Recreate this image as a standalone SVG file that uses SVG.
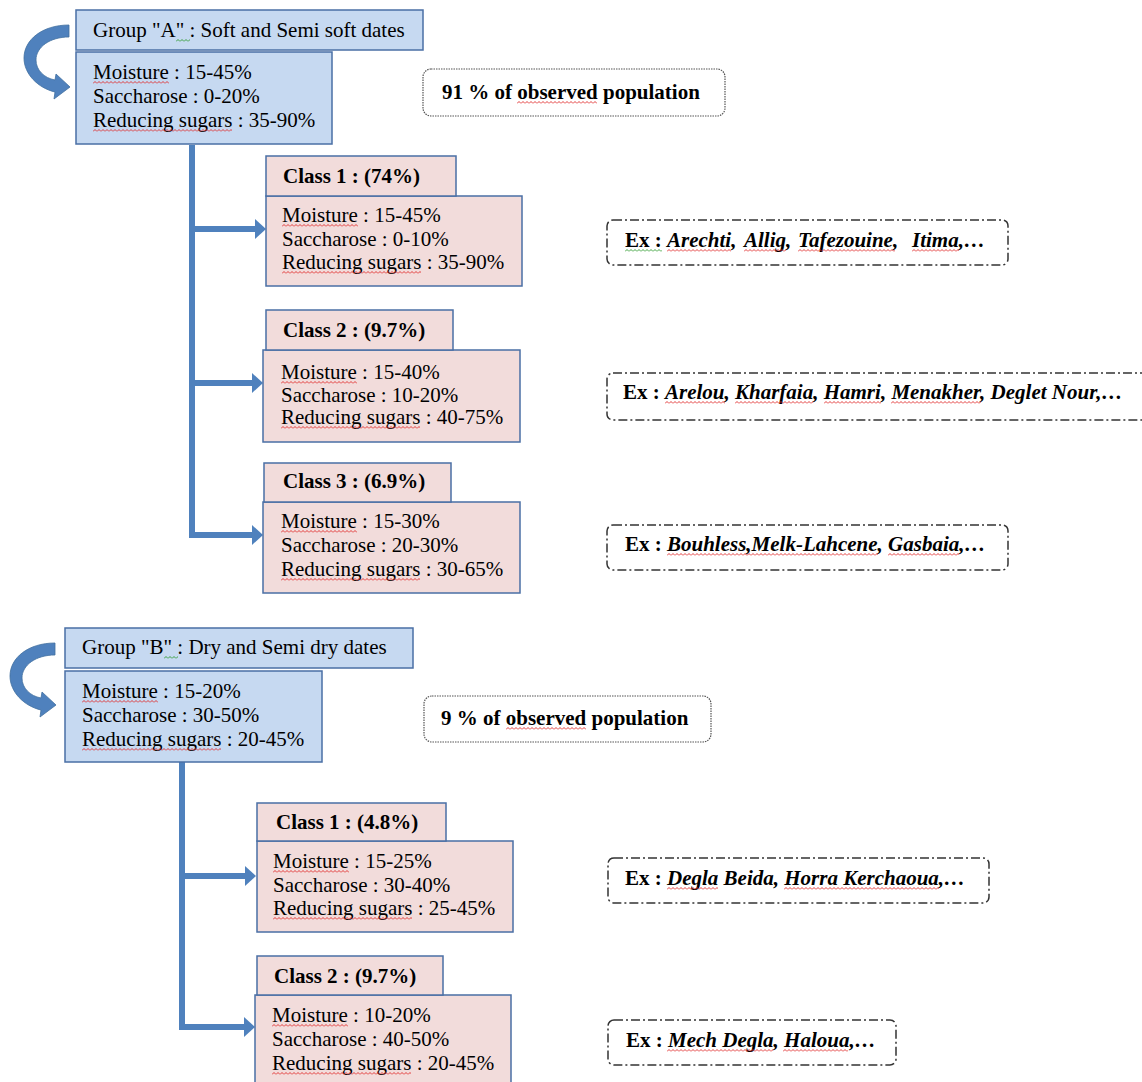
<svg xmlns="http://www.w3.org/2000/svg" width="1142" height="1082" viewBox="0 0 1142 1082">
<style>
.t{font-family:"Liberation Serif","Times New Roman",serif;font-size:21px;fill:#000}
.b{font-weight:bold}
.bi{font-weight:bold;font-style:italic}
.blue{fill:#c6d9f1;stroke:#4a6fa5;stroke-width:1.5}
.pink{fill:#f2dcdb;stroke:#4a6fa5;stroke-width:1.5}
.dot{fill:#fff;stroke:#555;stroke-width:1.2;stroke-dasharray:1.5 1}
.dd{fill:#fff;stroke:#333;stroke-width:1.5;stroke-dasharray:9 3 2 3}
.conn{fill:none;stroke:#4f81bd;stroke-width:6;marker-end:url(#ah)}
.curve{fill:#4f81bd;stroke:#41709f;stroke-width:0.8}
</style>
<defs>
<marker id="ah" markerUnits="userSpaceOnUse" markerWidth="12" markerHeight="22" refX="0" refY="10" orient="auto" overflow="visible">
<path d="M0 0 L11 10 L0 20 Z" fill="#4f81bd"/>
</marker>
<pattern id="sqr" width="4" height="3" patternUnits="userSpaceOnUse"><path d="M0 2.5 L2 0.5 L4 2.5" fill="none" stroke="#e02828" stroke-width="0.9"/></pattern>
<pattern id="sqg" width="4" height="3" patternUnits="userSpaceOnUse"><path d="M0 2.5 L2 0.5 L4 2.5" fill="none" stroke="#2a9a2a" stroke-width="0.9"/></pattern>
<path id="carrow" d="M69 25 C42 25 24 40 24 58 C24 74 38 88 55 92 L54 99 L70 87 L56 74 L55 80 C44 78 36 70 36 60 C36 47 50 37 69 37 Z"/>
</defs>
<rect width="1142" height="1082" fill="#fff"/>

<g id="connectors">
<use href="#carrow" class="curve"/>
<use href="#carrow" class="curve" transform="translate(-14 618)"/>
<path class="conn" d="M192 145 V535 H252"/>
<path class="conn" d="M192 229 H255"/>
<path class="conn" d="M192 383 H252"/>
<path class="conn" d="M182 762 V1027 H244"/>
<path class="conn" d="M182 876 H245"/>
</g>

<g id="groupA">
<rect class="blue" x="76" y="10" width="347" height="40"/>
<text class="t" x="93" y="37">Group "A" : Soft and Semi soft dates</text>
</g>
<g id="groupA-body">
<rect class="blue" x="76" y="52" width="256" height="92"/>
<text class="t" x="93" y="79">Moisture : 15-45%</text>
<text class="t" x="93" y="103">Saccharose : 0-20%</text>
<text class="t" x="93" y="127">Reducing sugars : 35-90%</text>
</g>
<g id="popA">
<rect class="dot" x="423" y="69" width="302" height="47" rx="8"/>
<text class="t b" x="442" y="99">91 % of observed population</text>
</g>

<g id="A-class1">
<rect class="pink" x="266" y="196" width="256" height="90"/>
<rect class="pink" x="266" y="156" width="190" height="40"/>
<text class="t b" x="283" y="183">Class 1 : (74%)</text>
<text class="t" x="282" y="222">Moisture : 15-45%</text>
<text class="t" x="282" y="246">Saccharose : 0-10%</text>
<text class="t" x="282" y="269">Reducing sugars : 35-90%</text>
</g>
<g id="A-class2">
<rect class="pink" x="263" y="350" width="257" height="92"/>
<rect class="pink" x="266" y="310" width="187" height="40"/>
<text class="t b" x="283" y="337">Class 2 : (9.7%)</text>
<text class="t" x="281" y="379">Moisture : 15-40%</text>
<text class="t" x="281" y="402">Saccharose : 10-20%</text>
<text class="t" x="281" y="424">Reducing sugars : 40-75%</text>
</g>
<g id="A-class3">
<rect class="pink" x="263" y="502" width="257" height="91"/>
<rect class="pink" x="264" y="463" width="187" height="39"/>
<text class="t b" x="283" y="488">Class 3 : (6.9%)</text>
<text class="t" x="281" y="528">Moisture : 15-30%</text>
<text class="t" x="281" y="552">Saccharose : 20-30%</text>
<text class="t" x="281" y="576">Reducing sugars : 30-65%</text>
</g>

<g id="A-ex1">
<rect class="dd" x="607" y="220" width="401" height="45" rx="6"/>
<text class="t b" x="625" y="247">Ex : <tspan class="bi" x="667">Arechti,</tspan><tspan class="bi" x="744">Allig,</tspan><tspan class="bi" x="798">Tafezouine,</tspan><tspan class="bi" x="912">Itima,…</tspan></text>
</g>
<g id="A-ex2">
<rect class="dd" x="607" y="373" width="545" height="47" rx="6"/>
<text class="t b" x="623" y="399">Ex : <tspan class="bi">Arelou, Kharfaia, Hamri, Menakher, Deglet Nour,…</tspan></text>
</g>
<g id="A-ex3">
<rect class="dd" x="607" y="525" width="401" height="45" rx="6"/>
<text class="t b" x="625" y="551">Ex : <tspan class="bi">Bouhless,Melk-Lahcene, Gasbaia,…</tspan></text>
</g>

<g id="groupB">
<rect class="blue" x="65" y="628" width="348" height="40"/>
<text class="t" x="82" y="654">Group "B" : Dry and Semi dry dates</text>
</g>
<g id="groupB-body">
<rect class="blue" x="65" y="671" width="257" height="91"/>
<text class="t" x="82" y="698">Moisture : 15-20%</text>
<text class="t" x="82" y="722">Saccharose : 30-50%</text>
<text class="t" x="82" y="746">Reducing sugars : 20-45%</text>
</g>
<g id="popB">
<rect class="dot" x="424" y="696" width="287" height="46" rx="8"/>
<text class="t b" x="441" y="725">9 % of observed population</text>
</g>

<g id="B-class1">
<rect class="pink" x="257" y="841" width="256" height="91"/>
<rect class="pink" x="257" y="803" width="189" height="38"/>
<text class="t b" x="276" y="829">Class 1 : (4.8%)</text>
<text class="t" x="273" y="868">Moisture : 15-25%</text>
<text class="t" x="273" y="892">Saccharose : 30-40%</text>
<text class="t" x="273" y="915">Reducing sugars : 25-45%</text>
</g>
<g id="B-class2">
<rect class="pink" x="255" y="995" width="256" height="92"/>
<rect class="pink" x="257" y="956" width="186" height="39"/>
<text class="t b" x="274" y="983">Class 2 : (9.7%)</text>
<text class="t" x="272" y="1022">Moisture : 10-20%</text>
<text class="t" x="272" y="1046">Saccharose : 40-50%</text>
<text class="t" x="272" y="1070">Reducing sugars : 20-45%</text>
</g>

<g id="B-ex1">
<rect class="dd" x="608" y="858" width="381" height="45" rx="6"/>
<text class="t b" x="625" y="885">Ex : <tspan class="bi">Degla Beida, Horra Kerchaoua,…</tspan></text>
</g>
<g id="B-ex2">
<rect class="dd" x="608" y="1020" width="288" height="45" rx="6"/>
<text class="t b" x="626" y="1047">Ex : <tspan class="bi">Mech Degla, Haloua,…</tspan></text>
</g>

<g id="spellcheck-marks">
<rect transform="translate(176 39)" width="14" height="3" fill="url(#sqg)"/>
<rect transform="translate(93 81)" width="76" height="3" fill="url(#sqr)"/>
<rect transform="translate(93 129)" width="139" height="3" fill="url(#sqr)"/>
<rect transform="translate(517 101)" width="80" height="3" fill="url(#sqr)"/>
<rect transform="translate(282 224)" width="76" height="3" fill="url(#sqr)"/>
<rect transform="translate(282 271)" width="139" height="3" fill="url(#sqr)"/>
<rect transform="translate(281 381)" width="76" height="3" fill="url(#sqr)"/>
<rect transform="translate(281 426)" width="139" height="3" fill="url(#sqr)"/>
<rect transform="translate(281 530)" width="76" height="3" fill="url(#sqr)"/>
<rect transform="translate(281 578)" width="139" height="3" fill="url(#sqr)"/>
<rect transform="translate(164 656)" width="14" height="3" fill="url(#sqg)"/>
<rect transform="translate(82 700)" width="76" height="3" fill="url(#sqr)"/>
<rect transform="translate(82 748)" width="139" height="3" fill="url(#sqr)"/>
<rect transform="translate(506 727)" width="80" height="3" fill="url(#sqr)"/>
<rect transform="translate(273 870)" width="76" height="3" fill="url(#sqr)"/>
<rect transform="translate(273 917)" width="139" height="3" fill="url(#sqr)"/>
<rect transform="translate(272 1024)" width="76" height="3" fill="url(#sqr)"/>
<rect transform="translate(272 1072)" width="139" height="3" fill="url(#sqr)"/>
<rect transform="translate(625 249)" width="37" height="3" fill="url(#sqg)"/>
<rect transform="translate(667 249)" width="64" height="3" fill="url(#sqr)"/>
<rect transform="translate(744 249)" width="42" height="3" fill="url(#sqr)"/>
<rect transform="translate(798 249)" width="97" height="3" fill="url(#sqr)"/>
<rect transform="translate(912 249)" width="47" height="3" fill="url(#sqr)"/>
<rect transform="translate(665 401)" width="60" height="3" fill="url(#sqr)"/>
<rect transform="translate(735 401)" width="78" height="3" fill="url(#sqr)"/>
<rect transform="translate(824 401)" width="57" height="3" fill="url(#sqr)"/>
<rect transform="translate(891 401)" width="90" height="3" fill="url(#sqr)"/>
<rect transform="translate(667 553)" width="211" height="3" fill="url(#sqr)"/>
<rect transform="translate(888 553)" width="71" height="3" fill="url(#sqr)"/>
<rect transform="translate(667 887)" width="51" height="3" fill="url(#sqr)"/>
<rect transform="translate(784 887)" width="155" height="3" fill="url(#sqr)"/>
<rect transform="translate(667 1049)" width="106" height="3" fill="url(#sqr)"/>
<rect transform="translate(783 1049)" width="65" height="3" fill="url(#sqr)"/>
</g>
</svg>
